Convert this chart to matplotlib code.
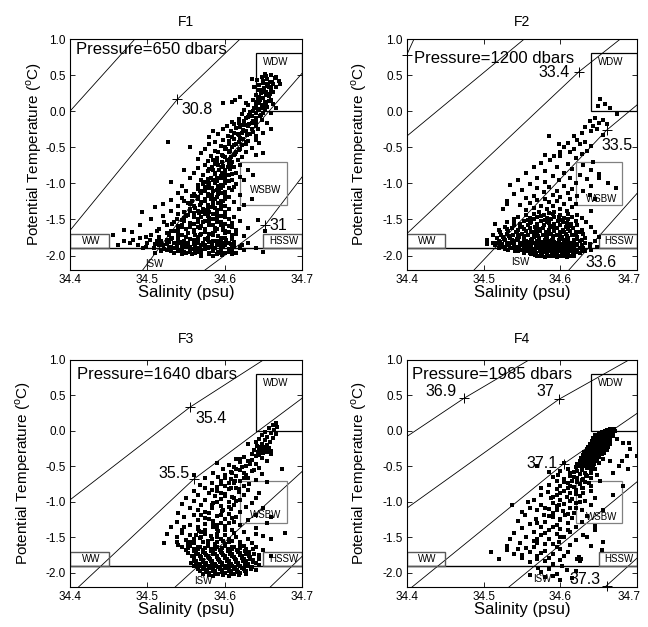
import matplotlib
matplotlib.use("Agg")
import matplotlib.pyplot as plt
from matplotlib.patches import Rectangle
import matplotlib.transforms as mtransforms

plt.rcParams['font.family'] = ['Liberation Sans', 'DejaVu Sans']
plt.rcParams['axes.unicode_minus'] = False
plt.rcParams['mathtext.fontset'] = 'custom'
plt.rcParams['mathtext.rm'] = 'Liberation Sans'

# ---------------- data ----------------
titles = ['F1', 'F2', 'F3', 'F4']
pressures = [650, 1200, 1640, 1985]
pressure_text_pos = [(34.408, 0.86), (34.4095, 0.73), (34.4087, 0.79), (34.407, 0.79)]

x_ticks = [34.4, 34.5, 34.6, 34.7]
y_ticks = [-2.0, -1.5, -1.0, -0.5, 0.0, 0.5, 1.0]
x_tick_labels = ['34.4', '34.5', '34.6', '34.7']
y_tick_labels = ['-2.0', '-1.5', '-1.0', '-0.5', '0.0', '0.5', '1.0']

# water-mass boxes (S0, S1, T0, T1)
wdw_box = (34.64, 34.70, 0.0, 0.8)
wsbw_box = (34.62, 34.68, -1.3, -0.7)
ww_box = (34.40, 34.45, -1.9, -1.7)
hssw_box = (34.65, 34.70, -1.9, -1.7)
freezing_theta = -1.9
wdw_label_pos = (34.666, 0.68)
ww_label_pos = (34.427, -1.80)
hssw_label_pos = (34.676, -1.80)
wsbw_label_theta = [-1.09, -1.22, -1.18, -1.21]
isw_label_pos = [(34.509, -2.11), (34.548, -2.09), (34.572, -2.12), (34.577, -2.09)]

# isopycnals (S, theta)
f1_lines = [
    [(34.400, 0.000), (34.484, 1.000)],
    [(34.400, -1.653), (34.539, 0.167), (34.620, 1.000)],
    [(34.494, -2.200), (34.589, -0.840), (34.700, 0.524)],
    [(34.5746, -2.200), (34.652, -1.583), (34.700, -0.912)],
]
f2_lines = [
    [(34.400, 0.778), (34.4095, 1.000)],
    [(34.400, -0.347), (34.553, 1.000)],
    [(34.400, -1.699), (34.624, 0.546), (34.678, 1.000)],
    [(34.4876, -2.200), (34.660, -0.264), (34.700, 0.090)],
    [(34.611, -2.200), (34.700, -1.135)],
]
f3_lines = [
    [(34.400, -0.972), (34.555, 0.334), (34.650, 1.000)],
    [(34.411, -2.200), (34.560, -0.680), (34.700, 0.460)],
    [(34.536, -2.200), (34.700, -0.573)],
    [(34.659, -2.200), (34.700, -1.770)],
]
f4_lines = [
    [(34.400, -0.080), (34.4745, 0.460), (34.559, 1.000)],
    [(34.400, -1.090), (34.598, 0.446), (34.689, 1.000)],
    [(34.407, -2.200), (34.604, -0.465), (34.700, 0.250)],
    [(34.533, -2.200), (34.700, -0.714)],
    [(34.658, -2.200), (34.700, -1.790)],
]

# crosses on isopycnals
f1_marks = [(34.539, 0.167), (34.652, -1.583)]
f2_marks = [(34.400, 0.778), (34.624, 0.546), (34.660, -0.264)]
f3_marks = [(34.555, 0.334), (34.560, -0.680)]
f4_marks = [(34.4745, 0.460), (34.598, 0.446), (34.604, -0.465), (34.660, -2.180)]

# isopycnal labels (text, S, theta, horizontal alignment)
f1_labels = [('30.8', 34.544, 0.02, 'left'), ('31', 34.658, -1.583, 'left')]
f2_labels = [('33.4', 34.612, 0.54, 'right'), ('33.5', 34.654, -0.47, 'left'),
             ('33.6', 34.633, -2.09, 'left')]
f3_labels = [('35.4', 34.5616, 0.18, 'left'), ('35.5', 34.554, -0.596, 'right')]
f4_labels = [('36.9', 34.465, 0.55, 'right'), ('37', 34.592, 0.55, 'right'),
             ('37.1', 34.596, -0.465, 'right'), ('37.3', 34.652, -2.09, 'right')]

# observations (salinity, potential temperature)
f1_points = [
    (34.652,0.52),(34.660,0.50),(34.648,0.47),(34.665,0.46),(34.655,0.44),(34.642,0.43),(34.670,0.42),
    (34.658,0.40),(34.650,0.39),(34.662,0.37),(34.645,0.36),(34.656,0.35),(34.667,0.34),(34.638,0.33),
    (34.651,0.32),(34.660,0.30),(34.644,0.29),(34.672,0.38),(34.635,0.45),(34.654,0.27),(34.663,0.26),
    (34.647,0.25),(34.640,0.22),(34.657,0.21),(34.667,0.48),
    (34.650,0.18),(34.643,0.17),(34.660,0.16),(34.636,0.15),(34.652,0.13),(34.645,0.11),(34.662,0.10),
    (34.630,0.09),(34.648,0.08),(34.655,0.06),(34.638,0.05),(34.644,0.03),(34.625,0.02),(34.652,0.01),
    (34.633,-0.01),(34.641,-0.03),(34.660,-0.02),(34.620,0.20),(34.628,0.12),(34.667,0.05),(34.613,0.15),
    (34.647,-0.05),(34.635,-0.06),(34.622,-0.04),(34.598,0.11),(34.609,0.13),
    (34.630,-0.08),(34.640,-0.10),(34.618,-0.11),(34.648,-0.12),(34.625,-0.14),(34.610,-0.15),(34.635,-0.16),
    (34.655,-0.17),(34.622,-0.19),(34.603,-0.20),(34.630,-0.21),(34.615,-0.23),(34.643,-0.24),(34.598,-0.25),
    (34.624,-0.26),(34.608,-0.28),(34.636,-0.29),(34.650,-0.30),(34.617,-0.31),(34.592,-0.32),(34.629,-0.33),
    (34.604,-0.34),(34.640,-0.35),(34.585,-0.27),(34.612,-0.18),(34.660,-0.25),(34.580,-0.36),(34.620,-0.37),
    (34.612,-0.38),(34.598,-0.40),(34.630,-0.41),(34.588,-0.42),(34.618,-0.43),(34.605,-0.45),(34.645,-0.44),
    (34.580,-0.46),(34.622,-0.47),(34.595,-0.48),(34.610,-0.50),(34.635,-0.51),(34.575,-0.52),(34.600,-0.53),
    (34.618,-0.54),(34.588,-0.55),(34.628,-0.56),(34.606,-0.57),(34.570,-0.58),(34.614,-0.59),(34.596,-0.60),
    (34.640,-0.60),(34.582,-0.62),(34.608,-0.63),(34.622,-0.64),(34.590,-0.65),(34.565,-0.66),(34.603,-0.67),
    (34.617,-0.68),(34.578,-0.69),(34.596,-0.70),(34.650,-0.58),(34.527,-0.42),(34.555,-0.50),(34.640,-0.40),
    (34.605,-0.72),(34.588,-0.73),(34.620,-0.74),(34.575,-0.75),(34.598,-0.76),(34.612,-0.77),(34.583,-0.78),
    (34.565,-0.79),(34.607,-0.80),(34.593,-0.81),(34.630,-0.82),(34.578,-0.83),(34.600,-0.84),(34.615,-0.85),
    (34.560,-0.86),(34.588,-0.87),(34.605,-0.88),(34.572,-0.89),(34.595,-0.90),(34.620,-0.91),(34.582,-0.92),
    (34.555,-0.93),(34.600,-0.94),(34.610,-0.95),(34.570,-0.96),(34.590,-0.97),(34.530,-0.98),(34.580,-0.99),
    (34.600,-1.00),(34.615,-1.01),(34.565,-1.02),(34.545,-1.04),(34.592,-1.03),(34.575,-1.05),(34.625,-0.96),
    (34.636,-0.88),(34.548,-0.82),(34.585,-0.95),(34.597,-0.78),(34.612,-1.05),
    (34.580,-1.06),(34.595,-1.07),(34.565,-1.08),(34.610,-1.09),(34.550,-1.10),(34.585,-1.11),(34.600,-1.12),
    (34.570,-1.13),(34.540,-1.14),(34.592,-1.15),(34.620,-1.16),(34.558,-1.17),(34.578,-1.18),(34.605,-1.19),
    (34.545,-1.20),(34.588,-1.21),(34.565,-1.22),(34.530,-1.23),(34.598,-1.24),(34.575,-1.25),(34.612,-1.26),
    (34.552,-1.27),(34.585,-1.28),(34.520,-1.29),(34.568,-1.30),(34.595,-1.31),(34.540,-1.32),(34.510,-1.33),
    (34.578,-1.34),(34.605,-1.35),(34.555,-1.36),(34.590,-1.37),(34.530,-1.38),(34.493,-1.39),(34.570,-1.40),
    (34.625,-1.30),(34.635,-1.22),(34.560,-1.15),(34.548,-1.25),(34.583,-1.33),(34.600,-1.39),(34.565,-1.38),
    (34.618,-1.36),(34.575,-1.10),(34.592,-1.27),
    (34.560,-1.41),(34.585,-1.42),(34.540,-1.43),(34.600,-1.44),(34.520,-1.45),(34.570,-1.46),(34.612,-1.47),
    (34.548,-1.48),(34.590,-1.49),(34.505,-1.50),(34.565,-1.51),(34.620,-1.52),(34.535,-1.53),(34.580,-1.54),
    (34.555,-1.55),(34.600,-1.56),(34.490,-1.57),(34.525,-1.58),(34.570,-1.59),(34.610,-1.60),(34.545,-1.61),
    (34.588,-1.62),(34.515,-1.63),(34.560,-1.64),(34.630,-1.62),(34.598,-1.65),(34.535,-1.66),(34.575,-1.67),
    (34.480,-1.68),(34.552,-1.69),(34.615,-1.70),(34.505,-1.71),(34.585,-1.72),(34.540,-1.73),(34.565,-1.74),
    (34.600,-1.75),(34.470,-1.64),(34.643,-1.51),(34.528,-1.71),(34.595,-1.58),(34.580,-1.70),(34.550,-1.45),
    (34.575,-1.52),(34.605,-1.68),(34.522,-1.54),(34.545,-1.58),(34.562,-1.72),(34.590,-1.46),(34.498,-1.74),
    (34.625,-1.73),(34.652,-1.66),(34.455,-1.71),(34.512,-1.66),(34.568,-1.62),(34.538,-1.49),
    (34.490,-1.76),(34.515,-1.77),(34.540,-1.78),(34.565,-1.79),(34.590,-1.80),(34.612,-1.81),(34.478,-1.82),
    (34.500,-1.83),(34.525,-1.84),(34.550,-1.85),(34.575,-1.86),(34.598,-1.87),(34.620,-1.88),(34.508,-1.89),
    (34.535,-1.90),(34.560,-1.91),(34.585,-1.92),(34.610,-1.93),(34.530,-1.94),(34.555,-1.95),(34.580,-1.96),
    (34.600,-1.97),(34.545,-1.98),(34.570,-2.00),(34.520,-1.86),(34.548,-1.80),(34.572,-1.83),(34.595,-1.84),
    (34.630,-1.83),(34.488,-1.86),(34.512,-1.80),(34.538,-1.88),(34.562,-1.87),(34.588,-1.89),(34.605,-1.91),
    (34.625,-1.92),(34.470,-1.80),(34.495,-1.90),(34.518,-1.93),(34.542,-1.92),(34.567,-1.94),(34.592,-1.95),
    (34.615,-1.96),(34.640,-1.90),(34.503,-1.78),(34.528,-1.81),(34.553,-1.83),(34.578,-1.78),(34.602,-1.79),
    (34.558,-1.98),(34.585,-2.01),(34.535,-1.97),(34.510,-1.96),(34.650,-1.95),(34.462,-1.85),(34.482,-1.79),
    (34.597,-1.99),(34.622,-1.85),(34.545,-1.86),(34.568,-1.89),(34.532,-1.76),(34.583,-1.85),(34.608,-1.84),
    (34.575,-1.91),(34.555,-1.93),
    (34.653,0.49),(34.661,0.41),(34.649,0.42),(34.657,0.33),(34.648,0.30),(34.654,0.23),(34.645,0.19),
    (34.657,0.14),(34.640,0.13),(34.650,0.04),(34.637,0.00),(34.646,-0.07),(34.628,-0.10),(34.637,-0.13),
    (34.619,-0.16),(34.632,-0.18),(34.640,-0.20),(34.620,-0.22),(34.628,-0.27),(34.612,-0.30),(34.633,-0.31),
    (34.618,-0.33),(34.624,-0.39),(34.605,-0.41),(34.615,-0.46),(34.627,-0.45),(34.600,-0.49),(34.620,-0.52),
    (34.607,-0.55),(34.592,-0.57),(34.612,-0.61),(34.600,-0.64),(34.585,-0.67),(34.610,-0.70),
    (34.592,-0.74),(34.608,-0.76),(34.580,-0.80),(34.600,-0.82),(34.588,-0.85),(34.610,-0.87),(34.595,-0.92),
    (34.578,-0.94),(34.605,-0.97),(34.588,-1.00),(34.572,-1.01),(34.598,-1.04),(34.583,-1.07),(34.568,-1.10),
    (34.593,-1.12),(34.578,-1.15),(34.600,-1.17),(34.565,-1.19),(34.582,-1.22),(34.595,-1.25),(34.570,-1.27),
    (34.555,-1.29),(34.585,-1.31),(34.600,-1.32),(34.562,-1.34),(34.575,-1.37),(34.590,-1.39),(34.548,-1.40),
    (34.575,-1.42),(34.595,-1.45),(34.560,-1.47),(34.580,-1.48),(34.605,-1.50),(34.548,-1.52),(34.590,-1.53),
    (34.565,-1.54),(34.610,-1.55),(34.532,-1.56),(34.585,-1.57),(34.555,-1.60),(34.598,-1.61),(34.575,-1.63),
    (34.540,-1.64),(34.615,-1.64),(34.588,-1.66),(34.560,-1.67),(34.525,-1.69),(34.600,-1.69),(34.570,-1.70),
    (34.545,-1.72),(34.592,-1.73),(34.515,-1.74),(34.578,-1.75),(34.555,-1.77),(34.610,-1.77),(34.525,-1.79),
    (34.585,-1.80),(34.540,-1.82),(34.565,-1.82),(34.600,-1.83),(34.510,-1.84),(34.590,-1.86),(34.555,-1.88),
    (34.528,-1.89),(34.610,-1.89),(34.578,-1.90),(34.545,-1.91),(34.595,-1.92),(34.565,-1.93),(34.522,-1.91),
    (34.585,-1.94),(34.548,-1.95),(34.605,-1.95),(34.570,-1.97),(34.590,-1.98),(34.562,-1.96),(34.498,-1.88),
    (34.620,-1.90),
    (34.600,-0.90),(34.590,-0.93),(34.575,-0.98),(34.595,-1.02),(34.580,-1.04),(34.605,-1.06),(34.590,-1.09),
    (34.572,-1.11),(34.597,-1.14),(34.583,-1.16),(34.562,-1.18),(34.590,-1.19),(34.575,-1.21),(34.600,-1.22),
    (34.558,-1.24),(34.585,-1.24),(34.570,-1.26),(34.595,-1.28),(34.578,-1.30),(34.560,-1.31),(34.588,-1.34),
    (34.572,-1.35),(34.595,-1.36),(34.555,-1.38),(34.580,-1.39),(34.567,-1.41),(34.590,-1.43),(34.553,-1.44),
    (34.578,-1.45),(34.600,-1.47),(34.565,-1.49),(34.585,-1.50),(34.545,-1.51),(34.572,-1.53),(34.595,-1.54),
    (34.560,-1.56),(34.580,-1.58),(34.540,-1.59),(34.605,-1.59),(34.565,-1.61),(34.590,-1.63),(34.550,-1.63),
    (34.575,-1.65),(34.530,-1.66),(34.600,-1.66),(34.560,-1.68),(34.585,-1.69),(34.540,-1.70),(34.610,-1.71),
    (34.568,-1.72),(34.550,-1.74),(34.595,-1.75),(34.530,-1.77),(34.575,-1.77),(34.560,-1.78),(34.595,-1.79),
    (34.518,-1.80),(34.545,-1.81),(34.580,-1.81),(34.605,-1.82),(34.535,-1.83),(34.560,-1.84),(34.590,-1.84),
    (34.515,-1.86),(34.570,-1.86),(34.600,-1.86),(34.550,-1.87),(34.530,-1.88),(34.580,-1.88),(34.612,-1.87),
    (34.565,-1.90),(34.545,-1.89),(34.595,-1.90),(34.525,-1.92),(34.555,-1.91),(34.585,-1.91),(34.605,-1.93),
    (34.570,-1.93),(34.540,-1.94),(34.595,-1.96),(34.565,-1.95),(34.580,-1.98),(34.550,-1.96),(34.610,-1.98),
    (34.655,0.38),(34.660,0.33),(34.650,0.27),(34.658,0.24),(34.646,0.16),(34.653,0.10),(34.641,0.07),
    (34.649,-0.02),(34.632,-0.05),(34.641,-0.15),(34.627,-0.19),(34.635,-0.25),(34.622,-0.30),(34.610,-0.36),
    (34.627,-0.42),(34.612,-0.47),(34.602,-0.52),(34.615,-0.57),(34.598,-0.62),(34.607,-0.66),(34.590,-0.71),
    (34.604,-0.78),(34.585,-0.82),(34.596,-0.86),
]

f2_points = [
    (34.649,0.07),(34.652,0.17),(34.665,0.04),(34.674,-0.04),(34.658,0.10),
    (34.645,-0.10),(34.655,-0.12),(34.638,-0.14),(34.650,-0.16),(34.660,-0.18),(34.642,-0.20),(34.632,-0.22),
    (34.648,-0.24),(34.628,-0.30),(34.640,-0.28),(34.617,-0.35),(34.622,-0.40),(34.632,-0.42),(34.610,-0.44),
    (34.625,-0.46),(34.640,-0.48),(34.605,-0.50),(34.618,-0.52),(34.635,-0.55),(34.600,-0.57),(34.585,-0.34),
    (34.598,-0.45),(34.613,-0.56),(34.655,-0.33),(34.580,-0.60),(34.628,-0.59),(34.592,-0.62),
    (34.600,-0.62),(34.620,-0.65),(34.586,-0.68),(34.642,-0.70),(34.575,-0.72),(34.610,-0.73),(34.630,-0.75),
    (34.565,-0.77),(34.595,-0.78),(34.615,-0.80),(34.640,-0.82),(34.580,-0.83),(34.555,-0.85),(34.605,-0.86),
    (34.625,-0.88),(34.650,-0.87),(34.590,-0.90),(34.570,-0.92),(34.612,-0.93),(34.635,-0.94),(34.545,-0.95),
    (34.598,-0.96),(34.580,-0.98),(34.620,-0.99),(34.662,-1.00),(34.560,-1.01),(34.534,-1.02),(34.605,-1.03),
    (34.640,-1.04),(34.585,-1.05),(34.672,-1.06),(34.570,-1.07),(34.615,-1.08),(34.550,-1.09),(34.595,-1.10),
    (34.630,-1.11),(34.578,-1.12),(34.610,-1.14),(34.540,-1.15),(34.590,-1.16),(34.565,-1.17),(34.622,-1.18),
    (34.600,-1.19),(34.555,-1.20),(34.580,-1.21),(34.612,-1.22),(34.645,-1.22),(34.570,-1.23),(34.530,-1.25),
    (34.595,-1.24),(34.585,-1.26),(34.560,-1.27),(34.620,-1.28),(34.605,-1.29),(34.548,-1.30),(34.575,-1.31),
    (34.590,-1.32),(34.530,-1.29),(34.615,-1.33),(34.565,-1.34),(34.600,-1.35),(34.640,-1.38),(34.582,-1.36),
    (34.555,-1.37),(34.608,-1.38),(34.572,-1.39),(34.592,-1.40),(34.525,-1.35),(34.650,-0.93),(34.638,-1.16),
    (34.565,-1.42),(34.590,-1.42),(34.610,-1.42),
    (34.555,-1.44),(34.578,-1.44),(34.600,-1.44),(34.622,-1.44),
    (34.545,-1.46),(34.570,-1.46),(34.592,-1.46),(34.615,-1.46),
    (34.560,-1.48),(34.583,-1.48),(34.605,-1.48),(34.628,-1.48),
    (34.540,-1.50),(34.566,-1.50),(34.588,-1.50),(34.610,-1.50),
    (34.552,-1.52),(34.575,-1.52),(34.597,-1.52),(34.620,-1.52),
    (34.530,-1.54),(34.562,-1.54),(34.582,-1.54),(34.603,-1.54),(34.633,-1.54),
    (34.515,-1.56),(34.548,-1.56),(34.570,-1.56),(34.592,-1.56),(34.614,-1.56),
    (34.540,-1.58),(34.558,-1.58),(34.578,-1.58),(34.600,-1.58),(34.622,-1.58),
    (34.528,-1.60),(34.550,-1.60),(34.567,-1.60),(34.587,-1.60),(34.607,-1.60),(34.640,-1.60),
    (34.537,-1.62),(34.560,-1.62),(34.577,-1.62),(34.596,-1.62),(34.616,-1.62),
    (34.520,-1.64),(34.545,-1.64),(34.568,-1.64),(34.585,-1.64),(34.603,-1.64),(34.628,-1.64),
    (34.532,-1.66),(34.555,-1.66),(34.574,-1.66),(34.592,-1.66),(34.612,-1.66),
    (34.521,-1.68),(34.542,-1.68),(34.562,-1.68),(34.581,-1.68),(34.600,-1.68),(34.620,-1.68),(34.645,-1.68),
    (34.530,-1.70),(34.550,-1.70),(34.570,-1.70),(34.588,-1.70),(34.607,-1.70),(34.630,-1.70),
    (34.512,-1.72),(34.538,-1.72),(34.558,-1.72),(34.577,-1.72),(34.595,-1.72),(34.615,-1.72),
    (34.525,-1.74),(34.546,-1.74),(34.565,-1.74),(34.583,-1.74),(34.602,-1.74),(34.622,-1.74),(34.650,-1.74),
    (34.518,-1.76),(34.535,-1.76),(34.553,-1.76),(34.572,-1.76),(34.590,-1.76),(34.610,-1.76),(34.632,-1.76),
    (34.505,-1.78),(34.528,-1.78),(34.545,-1.78),(34.562,-1.78),(34.580,-1.78),(34.598,-1.78),(34.617,-1.78),
    (34.520,-1.80),(34.538,-1.80),(34.555,-1.80),(34.570,-1.80),(34.587,-1.80),(34.605,-1.80),(34.625,-1.80),
    (34.645,-1.80),
    (34.512,-1.82),(34.530,-1.82),(34.548,-1.82),(34.565,-1.82),(34.578,-1.82),(34.594,-1.82),(34.612,-1.82),
    (34.504,-1.84),(34.524,-1.84),(34.540,-1.84),(34.558,-1.84),(34.573,-1.84),(34.586,-1.84),(34.600,-1.84),
    (34.620,-1.84),(34.638,-1.84),
    (34.515,-1.86),(34.533,-1.86),(34.552,-1.86),(34.568,-1.86),(34.581,-1.86),(34.595,-1.86),(34.608,-1.86),
    (34.628,-1.86),
    (34.527,-1.88),(34.545,-1.88),(34.562,-1.88),(34.576,-1.88),(34.590,-1.88),(34.603,-1.88),(34.616,-1.88),
    (34.648,-1.88),
    (34.520,-1.90),(34.538,-1.90),(34.556,-1.90),(34.571,-1.90),(34.585,-1.90),(34.598,-1.90),(34.612,-1.90),
    (34.630,-1.90),
    (34.532,-1.92),(34.550,-1.92),(34.566,-1.92),(34.580,-1.92),(34.593,-1.92),(34.607,-1.92),(34.622,-1.92),
    (34.640,-1.92),
    (34.545,-1.94),(34.561,-1.94),(34.575,-1.94),(34.588,-1.94),(34.601,-1.94),(34.615,-1.94),(34.632,-1.94),
    (34.553,-1.96),(34.568,-1.96),(34.582,-1.96),(34.595,-1.96),(34.609,-1.96),(34.625,-1.96),
    (34.562,-1.98),(34.576,-1.98),(34.590,-1.98),(34.604,-1.98),(34.618,-1.98),
    (34.570,-2.00),(34.585,-2.00),(34.598,-2.00),(34.612,-2.00),
    (34.580,-2.02),(34.595,-2.02),(34.608,-2.02),
    (34.575,-1.45),(34.598,-1.47),(34.585,-1.41),(34.560,-1.53),
    (34.558,-1.51),(34.580,-1.51),(34.602,-1.51),
    (34.540,-1.55),(34.560,-1.55),(34.585,-1.55),(34.608,-1.55),
    (34.548,-1.59),(34.570,-1.59),(34.590,-1.59),(34.612,-1.59),
    (34.530,-1.63),(34.552,-1.63),(34.572,-1.63),(34.592,-1.63),(34.610,-1.63),
    (34.544,-1.67),(34.565,-1.67),(34.585,-1.67),(34.604,-1.67),(34.625,-1.67),
    (34.523,-1.71),(34.545,-1.71),(34.565,-1.71),(34.582,-1.71),(34.600,-1.71),(34.620,-1.71),
    (34.533,-1.73),(34.552,-1.73),(34.571,-1.73),(34.590,-1.73),(34.608,-1.73),
    (34.526,-1.77),(34.544,-1.77),(34.563,-1.77),(34.581,-1.77),(34.600,-1.77),(34.622,-1.77),
    (34.537,-1.79),(34.553,-1.79),(34.572,-1.79),(34.589,-1.79),(34.607,-1.79),(34.628,-1.79),
    (34.522,-1.81),(34.540,-1.81),(34.560,-1.81),(34.575,-1.81),(34.592,-1.81),(34.610,-1.81),
    (34.517,-1.83),(34.535,-1.83),(34.552,-1.83),(34.567,-1.83),(34.582,-1.83),(34.596,-1.83),(34.615,-1.83),
    (34.632,-1.83),
    (34.530,-1.85),(34.547,-1.85),(34.562,-1.85),(34.578,-1.85),(34.592,-1.85),(34.605,-1.85),(34.622,-1.85),
    (34.522,-1.87),(34.540,-1.87),(34.558,-1.87),(34.574,-1.87),(34.587,-1.87),(34.600,-1.87),(34.614,-1.87),
    (34.638,-1.87),
    (34.534,-1.89),(34.552,-1.89),(34.568,-1.89),(34.582,-1.89),(34.596,-1.89),(34.609,-1.89),(34.625,-1.89),
    (34.528,-1.91),(34.546,-1.91),(34.563,-1.91),(34.577,-1.91),(34.590,-1.91),(34.604,-1.91),(34.618,-1.91),
    (34.541,-1.93),(34.558,-1.93),(34.573,-1.93),(34.586,-1.93),(34.599,-1.93),(34.613,-1.93),(34.628,-1.93),
    (34.552,-1.95),(34.567,-1.95),(34.581,-1.95),(34.594,-1.95),(34.607,-1.95),(34.622,-1.95),
    (34.560,-1.97),(34.575,-1.97),(34.589,-1.97),(34.602,-1.97),(34.616,-1.97),
    (34.567,-1.99),(34.582,-1.99),(34.596,-1.99),(34.610,-1.99),
    (34.575,-2.01),(34.590,-2.01),(34.603,-2.01),(34.617,-2.01),
]

f3_points = [
    (34.666,0.11),(34.662,0.08),(34.668,0.05),(34.657,0.04),(34.664,0.01),(34.652,-0.01),(34.660,-0.03),
    (34.667,-0.05),(34.648,-0.06),(34.655,-0.08),(34.662,-0.10),(34.645,-0.11),(34.652,-0.13),(34.640,-0.15),
    (34.658,-0.16),(34.648,-0.18),(34.655,-0.20),(34.642,-0.21),(34.650,-0.23),(34.657,-0.24),(34.645,-0.25),
    (34.652,-0.26),(34.638,-0.27),(34.648,-0.28),(34.655,-0.29),(34.643,-0.30),(34.650,-0.31),(34.635,-0.32),
    (34.660,-0.33),(34.630,-0.19),
    (34.640,-0.35),(34.625,-0.37),(34.648,-0.38),(34.615,-0.40),(34.635,-0.41),(34.655,-0.42),(34.620,-0.44),
    (34.590,-0.45),(34.640,-0.46),(34.605,-0.48),(34.628,-0.49),(34.612,-0.51),(34.645,-0.52),(34.674,-0.53),
    (34.598,-0.54),(34.620,-0.55),(34.635,-0.57),(34.608,-0.58),(34.585,-0.59),(34.625,-0.60),(34.648,-0.61),
    (34.600,-0.62),(34.615,-0.64),(34.592,-0.65),(34.630,-0.66),(34.575,-0.67),(34.608,-0.68),(34.640,-0.69),
    (34.620,-0.70),(34.595,-0.71),(34.583,-0.73),(34.612,-0.74),(34.632,-0.75),(34.568,-0.76),(34.600,-0.77),
    (34.625,-0.78),(34.590,-0.79),(34.655,-0.72),(34.560,-0.62),(34.615,-0.80),
    (34.575,-0.81),(34.605,-0.82),(34.630,-0.83),(34.560,-0.84),(34.590,-0.85),(34.618,-0.86),(34.645,-0.87),
    (34.580,-0.88),(34.600,-0.89),(34.565,-0.90),(34.625,-0.91),(34.588,-0.92),(34.610,-0.93),(34.550,-0.94),
    (34.640,-0.95),(34.595,-0.96),(34.575,-0.97),(34.620,-0.98),(34.560,-0.99),(34.605,-1.00),(34.585,-1.01),
    (34.635,-1.02),(34.545,-1.03),(34.612,-1.04),(34.570,-1.05),(34.595,-1.06),(34.628,-1.07),(34.555,-1.08),
    (34.583,-1.09),(34.608,-1.10),(34.650,-1.08),(34.565,-1.12),(34.597,-1.13),(34.620,-1.14),(34.540,-1.15),
    (34.580,-1.16),(34.605,-1.17),(34.640,-1.18),(34.560,-1.19),(34.590,-1.20),(34.615,-1.21),(34.548,-1.22),
    (34.575,-1.23),(34.600,-1.24),(34.630,-1.25),(34.565,-1.26),(34.585,-1.27),(34.612,-1.28),(34.538,-1.29),
    (34.595,-1.30),(34.660,-1.22),(34.655,-1.30),
    (34.575,-1.31),(34.620,-1.32),(34.555,-1.33),(34.600,-1.34),(34.530,-1.35),(34.585,-1.36),(34.640,-1.37),
    (34.565,-1.38),(34.610,-1.39),(34.545,-1.40),(34.592,-1.41),(34.625,-1.42),(34.570,-1.43),(34.678,-1.44),
    (34.525,-1.45),(34.600,-1.46),(34.555,-1.47),(34.582,-1.48),(34.615,-1.49),(34.538,-1.50),(34.568,-1.51),
    (34.595,-1.52),(34.630,-1.53),(34.550,-1.54),(34.578,-1.55),(34.538,-1.56),(34.605,-1.57),(34.560,-1.58),
    (34.588,-1.59),(34.620,-1.60),(34.522,-1.58),(34.650,-1.48),(34.660,-1.52),(34.545,-1.44),(34.590,-1.33),
    (34.572,-1.57),(34.612,-1.44),(34.598,-1.55),(34.635,-1.58),(34.553,-1.60),(34.575,-1.40),(34.548,-1.36),
    (34.640,-1.45),(34.583,-1.53),(34.563,-1.46),
    (34.555,-1.62),(34.578,-1.62),(34.600,-1.62),(34.625,-1.62),
    (34.545,-1.64),(34.568,-1.64),(34.590,-1.64),(34.612,-1.64),(34.640,-1.64),
    (34.560,-1.66),(34.582,-1.66),(34.604,-1.66),(34.628,-1.66),
    (34.550,-1.68),(34.572,-1.68),(34.594,-1.68),(34.616,-1.68),(34.650,-1.68),
    (34.563,-1.70),(34.585,-1.70),(34.607,-1.70),(34.632,-1.70),
    (34.553,-1.72),(34.575,-1.72),(34.597,-1.72),(34.620,-1.72),
    (34.566,-1.74),(34.588,-1.74),(34.610,-1.74),(34.638,-1.74),
    (34.558,-1.76),(34.579,-1.76),(34.600,-1.76),(34.622,-1.76),(34.660,-1.76),
    (34.569,-1.78),(34.590,-1.78),(34.612,-1.78),(34.633,-1.78),
    (34.560,-1.80),(34.581,-1.80),(34.603,-1.80),(34.625,-1.80),(34.645,-1.80),
    (34.572,-1.82),(34.593,-1.82),(34.615,-1.82),(34.636,-1.82),
    (34.563,-1.84),(34.584,-1.84),(34.605,-1.84),(34.627,-1.84),
    (34.556,-1.86),(34.576,-1.86),(34.596,-1.86),(34.617,-1.86),(34.640,-1.86),
    (34.568,-1.88),(34.588,-1.88),(34.608,-1.88),(34.630,-1.88),
    (34.560,-1.90),(34.580,-1.90),(34.600,-1.90),(34.620,-1.90),
    (34.572,-1.92),(34.592,-1.92),(34.612,-1.92),(34.635,-1.92),
    (34.565,-1.94),(34.585,-1.94),(34.605,-1.94),(34.625,-1.94),
    (34.576,-1.96),(34.596,-1.96),(34.616,-1.96),(34.640,-1.96),
    (34.568,-1.98),(34.588,-1.98),(34.608,-1.98),(34.628,-1.98),
    (34.580,-2.00),(34.600,-2.00),(34.620,-2.00),
    (34.572,-2.02),(34.592,-2.02),(34.612,-2.02),
    (34.585,-2.04),(34.605,-2.04),
    (34.565,-1.63),(34.588,-1.63),(34.610,-1.63),
    (34.552,-1.65),(34.575,-1.65),(34.597,-1.65),(34.620,-1.65),
    (34.565,-1.67),(34.588,-1.67),(34.610,-1.67),(34.636,-1.67),
    (34.560,-1.69),(34.582,-1.69),(34.604,-1.69),(34.626,-1.69),
    (34.572,-1.71),(34.595,-1.71),(34.617,-1.71),
    (34.563,-1.73),(34.585,-1.73),(34.607,-1.73),(34.628,-1.73),
    (34.576,-1.75),(34.598,-1.75),(34.620,-1.75),(34.645,-1.75),
    (34.568,-1.77),(34.590,-1.77),(34.610,-1.77),(34.632,-1.77),
    (34.560,-1.79),(34.580,-1.79),(34.601,-1.79),(34.622,-1.79),
    (34.570,-1.81),(34.592,-1.81),(34.613,-1.81),(34.633,-1.81),
    (34.562,-1.83),(34.582,-1.83),(34.603,-1.83),(34.624,-1.83),
    (34.572,-1.85),(34.594,-1.85),(34.615,-1.85),(34.636,-1.85),
    (34.563,-1.87),(34.584,-1.87),(34.605,-1.87),(34.626,-1.87),
    (34.575,-1.89),(34.596,-1.89),(34.617,-1.89),(34.645,-1.89),
    (34.568,-1.91),(34.589,-1.91),(34.610,-1.91),(34.630,-1.91),
    (34.580,-1.93),(34.601,-1.93),(34.622,-1.93),
    (34.573,-1.95),(34.594,-1.95),(34.614,-1.95),(34.634,-1.95),
    (34.585,-1.97),(34.605,-1.97),(34.626,-1.97),
    (34.577,-1.99),(34.597,-1.99),(34.617,-1.99),
    (34.588,-2.01),(34.608,-2.01),(34.628,-2.01),
    (34.580,-2.03),(34.598,-2.03),(34.618,-2.03),
    (34.645,-0.34),(34.630,-0.43),(34.622,-0.51),(34.638,-0.55),(34.610,-0.60),(34.625,-0.67),(34.605,-0.73),
    (34.618,-0.82),(34.595,-0.87),(34.612,-0.95),(34.590,-1.00),(34.605,-1.07),(34.575,-1.14),(34.595,-1.18),
    (34.580,-1.24),(34.605,-1.30),(34.565,-1.35),(34.590,-1.38),(34.575,-1.45),(34.560,-1.52),(34.590,-1.50),
    (34.605,-1.53),(34.578,-1.59),
    (34.650,-0.27),(34.655,-0.25),(34.647,-0.22),(34.660,-0.28),(34.652,-0.30),
    (34.620,-0.40),(34.633,-0.47),(34.615,-0.53),(34.628,-0.62),(34.600,-0.66),(34.613,-0.70),(34.595,-0.75),
    (34.608,-0.80),(34.583,-0.83),(34.600,-0.92),(34.615,-0.99),(34.583,-1.04),(34.598,-1.11),(34.570,-1.18),
    (34.610,-1.23),(34.585,-1.33),(34.600,-1.40),(34.567,-1.41),(34.590,-1.45),(34.610,-1.55),(34.570,-1.49),
    (34.555,-1.56),(34.590,-1.57),(34.620,-1.57),(34.540,-1.61),(34.600,-1.60),
]

f4_points = [
    (34.664,0.03),(34.670,0.03),(34.660,0.01),(34.667,0.01),
    (34.656,-0.01),(34.663,-0.01),(34.669,-0.01),
    (34.653,-0.03),(34.660,-0.03),(34.666,-0.03),
    (34.650,-0.05),(34.657,-0.05),(34.664,-0.05),
    (34.648,-0.07),(34.655,-0.07),(34.661,-0.07),(34.668,-0.07),
    (34.652,-0.09),(34.659,-0.09),(34.665,-0.09),
    (34.646,-0.11),(34.653,-0.11),(34.660,-0.11),(34.674,-0.11),
    (34.644,-0.13),(34.650,-0.13),(34.657,-0.13),(34.664,-0.13),
    (34.647,-0.15),(34.654,-0.15),(34.661,-0.15),
    (34.641,-0.17),(34.647,-0.17),(34.653,-0.17),(34.659,-0.17),(34.681,-0.17),
    (34.644,-0.19),(34.651,-0.19),(34.657,-0.19),(34.665,-0.19),
    (34.638,-0.21),(34.644,-0.21),(34.650,-0.21),(34.656,-0.21),
    (34.641,-0.23),(34.648,-0.23),(34.654,-0.23),(34.662,-0.23),
    (34.636,-0.25),(34.643,-0.25),(34.649,-0.25),(34.655,-0.25),(34.690,-0.25),
    (34.639,-0.27),(34.646,-0.27),(34.652,-0.27),(34.660,-0.27),
    (34.634,-0.29),(34.640,-0.29),(34.646,-0.29),(34.652,-0.29),
    (34.637,-0.31),(34.643,-0.31),(34.649,-0.31),(34.657,-0.31),
    (34.632,-0.33),(34.638,-0.33),(34.645,-0.33),(34.652,-0.33),
    (34.635,-0.35),(34.641,-0.35),(34.648,-0.35),(34.686,-0.35),
    (34.630,-0.37),(34.636,-0.37),(34.643,-0.37),(34.650,-0.37),
    (34.633,-0.39),(34.639,-0.39),(34.646,-0.39),(34.656,-0.39),
    (34.628,-0.41),(34.634,-0.41),(34.641,-0.41),(34.648,-0.41),
    (34.631,-0.43),(34.637,-0.43),(34.645,-0.43),(34.664,-0.43),
    (34.626,-0.45),(34.633,-0.45),(34.640,-0.45),(34.650,-0.45),
    (34.629,-0.47),(34.636,-0.47),(34.644,-0.47),
    (34.624,-0.49),(34.632,-0.49),(34.640,-0.49),(34.676,-0.49),
    (34.667,0.02),(34.658,0.00),(34.665,0.00),(34.671,0.00),
    (34.654,-0.02),(34.661,-0.02),(34.668,-0.02),
    (34.652,-0.04),(34.659,-0.04),(34.666,-0.04),
    (34.645,-0.06),(34.652,-0.06),(34.659,-0.06),(34.666,-0.06),
    (34.649,-0.08),(34.656,-0.08),(34.662,-0.08),
    (34.643,-0.10),(34.650,-0.10),(34.657,-0.10),(34.664,-0.10),
    (34.647,-0.12),(34.654,-0.12),(34.661,-0.12),
    (34.641,-0.14),(34.648,-0.14),(34.655,-0.14),(34.662,-0.14),
    (34.644,-0.16),(34.650,-0.16),(34.656,-0.16),(34.664,-0.16),
    (34.639,-0.18),(34.647,-0.18),(34.654,-0.18),(34.660,-0.18),
    (34.641,-0.20),(34.647,-0.20),(34.653,-0.20),(34.661,-0.20),
    (34.636,-0.22),(34.643,-0.22),(34.651,-0.22),(34.658,-0.22),
    (34.639,-0.24),(34.645,-0.24),(34.652,-0.24),
    (34.634,-0.26),(34.640,-0.26),(34.646,-0.26),(34.653,-0.26),
    (34.637,-0.28),(34.643,-0.28),(34.649,-0.28),(34.656,-0.28),
    (34.631,-0.30),(34.637,-0.30),(34.643,-0.30),(34.650,-0.30),
    (34.634,-0.32),(34.640,-0.32),(34.646,-0.32),(34.654,-0.32),
    (34.629,-0.34),(34.635,-0.34),(34.642,-0.34),(34.649,-0.34),
    (34.632,-0.36),(34.638,-0.36),(34.645,-0.36),
    (34.627,-0.38),(34.634,-0.38),(34.641,-0.38),(34.648,-0.38),
    (34.630,-0.40),(34.637,-0.40),(34.644,-0.40),
    (34.625,-0.42),(34.632,-0.42),(34.639,-0.42),(34.646,-0.42),
    (34.628,-0.44),(34.636,-0.44),(34.643,-0.44),
    (34.622,-0.46),(34.630,-0.46),(34.638,-0.46),
    (34.626,-0.48),(34.634,-0.48),(34.642,-0.48),
    (34.628,-0.52),(34.640,-0.55),(34.622,-0.57),(34.633,-0.62),(34.618,-0.65),(34.630,-0.68),(34.622,-0.72),
    (34.637,-0.74),(34.612,-0.77),(34.628,-0.80),(34.605,-0.72),(34.640,-0.60),
    (34.620,-0.51),(34.635,-0.52),(34.645,-0.53),(34.610,-0.54),(34.628,-0.55),(34.688,-0.53),(34.600,-0.56),
    (34.640,-0.57),(34.618,-0.58),(34.632,-0.59),(34.597,-0.62),(34.625,-0.61),(34.648,-0.62),(34.612,-0.63),
    (34.635,-0.64),(34.590,-0.65),(34.622,-0.66),(34.640,-0.67),(34.605,-0.68),(34.628,-0.69),(34.615,-0.70),
    (34.652,-0.70),(34.595,-0.71),(34.632,-0.72),(34.682,-0.78),(34.610,-0.74),(34.625,-0.75),(34.585,-0.76),
    (34.640,-0.77),(34.600,-0.78),(34.618,-0.79),(34.575,-0.80),(34.700,-0.35),(34.689,-0.17),(34.680,-0.42),
    (34.668,-0.60),(34.585,-0.58),(34.570,-0.50),(34.605,-0.45),(34.612,-0.60),
    (34.595,-0.82),(34.620,-0.83),(34.640,-0.84),(34.605,-0.85),(34.584,-0.86),(34.630,-0.87),(34.612,-0.88),
    (34.669,-0.90),(34.595,-0.90),(34.575,-0.91),(34.625,-0.92),(34.608,-0.93),(34.645,-0.94),(34.588,-0.95),
    (34.615,-0.96),(34.565,-0.97),(34.600,-0.98),(34.632,-0.99),(34.558,-1.00),(34.590,-1.01),(34.620,-1.02),
    (34.605,-1.03),(34.537,-1.04),(34.575,-1.05),(34.640,-1.05),(34.595,-1.06),(34.612,-1.08),(34.560,-1.09),
    (34.585,-1.10),(34.628,-1.11),(34.570,-1.12),(34.603,-1.13),(34.550,-1.14),(34.618,-1.15),(34.590,-1.16),
    (34.655,-1.12),(34.578,-1.18),(34.606,-1.19),(34.554,-1.18),(34.635,-1.20),
    (34.590,-1.22),(34.615,-1.23),(34.568,-1.24),(34.600,-1.26),(34.545,-1.27),(34.628,-1.28),(34.580,-1.29),
    (34.610,-1.30),(34.560,-1.31),(34.595,-1.33),(34.645,-1.34),(34.575,-1.35),(34.620,-1.36),(34.550,-1.37),
    (34.600,-1.38),(34.645,-1.39),(34.585,-1.40),(34.565,-1.42),(34.612,-1.43),(34.540,-1.44),(34.595,-1.45),
    (34.630,-1.46),(34.575,-1.47),(34.555,-1.49),(34.605,-1.50),(34.585,-1.52),(34.535,-1.53),(34.620,-1.54),
    (34.656,-1.56),(34.565,-1.55),(34.598,-1.57),(34.548,-1.58),(34.580,-1.60),(34.612,-1.61),(34.530,-1.62),
    (34.565,-1.63),(34.595,-1.64),(34.545,-1.66),(34.654,-1.68),(34.530,-1.68),(34.580,-1.69),(34.610,-1.70),
    (34.560,-1.71),(34.540,-1.73),(34.590,-1.74),(34.570,-1.76),(34.624,-1.78),(34.621,-1.80),(34.627,-1.81),
    (34.550,-1.79),(34.600,-1.82),(34.580,-1.83),(34.560,-1.85),(34.590,-1.87),(34.520,-1.80),(34.625,-1.84),
    (34.510,-1.70),(34.640,-1.62),(34.635,-1.50),(34.570,-1.58),
    (34.571,-1.93),(34.602,-1.91),(34.585,-1.95),(34.608,-1.96),(34.575,-1.99),(34.595,-2.01),(34.615,-2.08),
    (34.580,-2.06),(34.600,-2.10),(34.560,-2.03),(34.620,-1.98),(34.590,-2.04),
    (34.610,-0.80),(34.630,-0.81),(34.600,-0.88),(34.620,-0.89),(34.590,-0.93),(34.612,-0.99),(34.625,-1.00),
    (34.598,-1.04),(34.580,-1.08),(34.620,-1.09),(34.595,-1.12),(34.610,-1.17),(34.585,-1.20),(34.600,-1.24),
    (34.570,-1.30),(34.590,-1.35),(34.610,-1.39),(34.580,-1.44),(34.600,-1.49),(34.570,-1.52),(34.590,-1.60),
    (34.555,-1.65),(34.600,-1.67),(34.575,-1.72),(34.550,-1.75),(34.605,-1.76),(34.585,-1.79),(34.570,-1.81),
]

all_points = [f1_points, f2_points, f3_points, f4_points]
all_lines = [f1_lines, f2_lines, f3_lines, f4_lines]
all_marks = [f1_marks, f2_marks, f3_marks, f4_marks]
all_labels = [f1_labels, f2_labels, f3_labels, f4_labels]

# ---------------- figure ----------------
fig = plt.figure(figsize=(6.48, 6.27), dpi=100)
rects = [
    [70 / 648, 1 - 270 / 627, 232 / 648, 231 / 627],
    [406.7 / 648, 1 - 270 / 627, 230.6 / 648, 231 / 627],
    [70 / 648, 1 - 587 / 627, 232 / 648, 227 / 627],
    [406.7 / 648, 1 - 587 / 627, 230.6 / 648, 227 / 627],
]
ylabel_x = [-0.112, -0.163, -0.159, -0.163]
title_pad = [9, 9, 12, 12]

def draw_box(ax, box, color, lw):
    s0, s1, t0, t1 = box
    ax.add_patch(Rectangle((s0, t0), s1 - s0, t1 - t0, fill=False,
                           edgecolor=color, linewidth=lw, zorder=2))

for i in range(4):
    ax = fig.add_axes(rects[i])
    ax.set_xlim(34.4, 34.7)
    ax.set_ylim(-2.2, 1.0)

    for line in all_lines[i]:
        ax.plot([p[0] for p in line], [p[1] for p in line], color='black', lw=0.6, zorder=1)

    ax.axhline(freezing_theta, color='black', lw=1.0, zorder=2)
    draw_box(ax, wdw_box, 'black', 0.9)
    draw_box(ax, wsbw_box, '0.5', 0.9)
    draw_box(ax, ww_box, '0.35', 1.0)
    draw_box(ax, hssw_box, '0.35', 1.0)

    pts = all_points[i]
    ax.scatter([p[0] for p in pts], [p[1] for p in pts], s=5.0, marker='s',
               color='black', linewidths=0, zorder=3)

    for (s, t) in all_marks[i]:
        ax.plot(s, t, marker='+', color='black', markersize=7, mew=0.7, zorder=4, clip_on=False)
    for (txt, s, t, ha) in all_labels[i]:
        ax.text(s, t, txt, ha=ha, va='center', fontsize=11.5, zorder=5)

    ax.text(pressure_text_pos[i][0], pressure_text_pos[i][1],
            'Pressure=%d dbars' % pressures[i], ha='left', va='center', fontsize=12, zorder=5)
    ax.text(wdw_label_pos[0], wdw_label_pos[1], 'WDW', ha='center', va='center', fontsize=7)
    ax.text(34.653, wsbw_label_theta[i], 'WSBW', ha='center', va='center', fontsize=7)
    ax.text(ww_label_pos[0], ww_label_pos[1], 'WW', ha='center', va='center', fontsize=7)
    ax.text(hssw_label_pos[0], hssw_label_pos[1], 'HSSW', ha='center', va='center', fontsize=7)
    ax.text(isw_label_pos[i][0], isw_label_pos[i][1], 'ISW', ha='center', va='center', fontsize=7)

    ax.set_xticks(x_ticks)
    ax.set_xticklabels(x_tick_labels)
    ax.set_yticks(y_ticks)
    ax.set_yticklabels(y_tick_labels)
    ax.tick_params(direction='in', length=3.5, width=0.6, top=True, right=True,
                   labelsize=8.5, pad=3)
    for sp in ax.spines.values():
        sp.set_linewidth(0.8)
    ax.set_title(titles[i], fontsize=10, pad=title_pad[i])
    ax.set_xlabel('Salinity (psu)', fontsize=12, labelpad=-1)
    ax.set_ylabel('Potential Temperature ($^{\\rm o}$C)', fontsize=11)
    ax.yaxis.set_label_coords(ylabel_x[i], 0.5)

    if i in (1, 3):
        last = ax.get_xticklabels()[-1]
        last.set_horizontalalignment('right')
        last.set_transform(last.get_transform() +
                           mtransforms.ScaledTranslation(2 / 72, 0, fig.dpi_scale_trans))

fig.savefig('out.png', dpi=100)
